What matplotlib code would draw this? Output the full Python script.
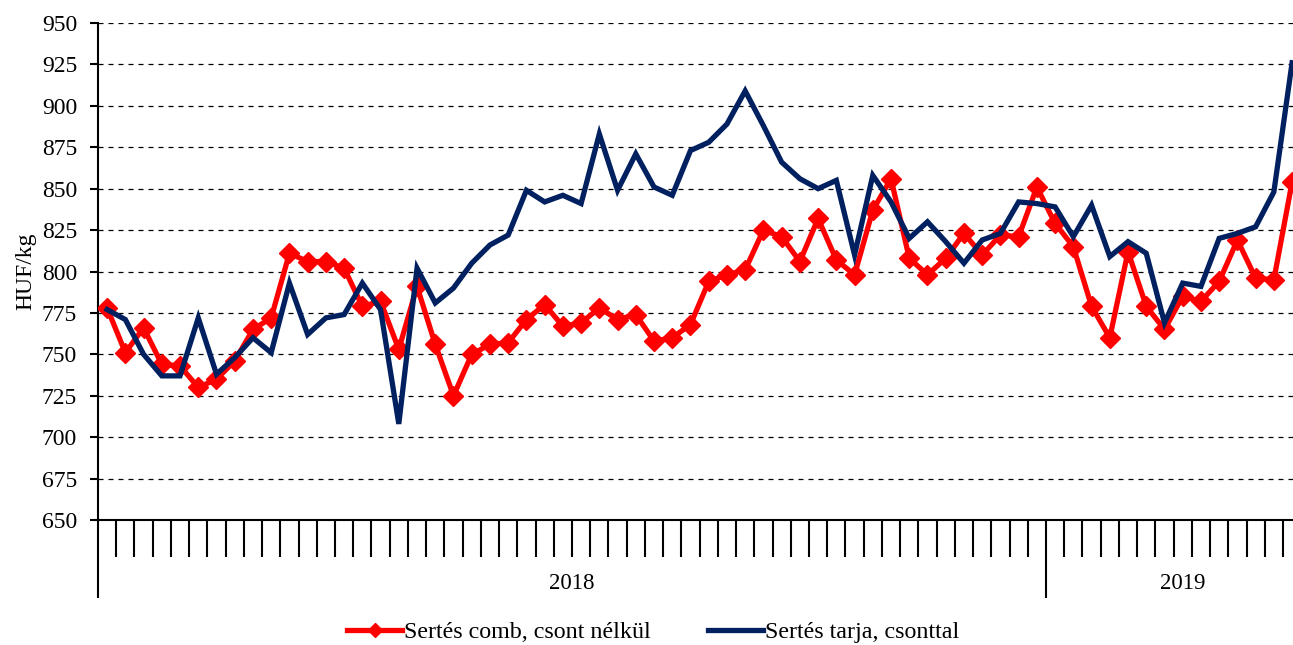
import matplotlib.pyplot as plt
import numpy as np
from matplotlib.lines import Line2D
import matplotlib.transforms as mtransforms

plt.rcParams['font.family'] = ['Liberation Serif', 'DejaVu Serif']

# heti árak, 2018. 1. héttől
comb = [778, 751, 766, 744, 743, 730, 735, 746, 765, 772, 811, 806, 806, 802, 779, 782,
        753, 791, 756, 725, 750, 756, 757, 771, 780, 767, 769, 778, 771, 774, 758, 760,
        768, 794, 798, 801, 825, 821, 806, 832, 807, 798, 837, 856, 808, 798, 808, 823,
        810, 822, 821, 851, 829, 815, 779, 760, 812, 779, 765, 785, 782, 794, 819, 796,
        795, 854]
tarja = [777, 771, 750, 737, 737, 772, 738, 748, 760, 751, 793, 762, 772, 774, 793, 777,
         708, 802, 781, 790, 805, 816, 822, 849, 842, 846, 841, 883, 849, 871, 851, 846,
         873, 878, 889, 909, 888, 866, 856, 850, 855, 810, 858, 842, 820, 830, 818, 805,
         819, 823, 842, 841, 839, 821, 840, 809, 818, 811, 769, 793, 791, 820, 823, 827,
         848, 926]
years = ['2018', '2019']
weeks_per_year = [52, 15]
labels = ['Sertés comb, csont nélkül', 'Sertés tarja, csonttal']

red = '#FF0000'
navy = '#002060'
fs = 17

fig = plt.figure(figsize=(12.93, 6.45), dpi=100)
ax = fig.add_axes([98 / 1293, 1 - 520 / 645, 1 - 98 / 1293, (520 - 23) / 645])

x = np.arange(len(comb))
ax.plot(x, comb, color=red, lw=3.8, marker='D', ms=10.5, mec=red, mfc=red,
        solid_joinstyle='miter', zorder=3)
ax.plot(x, tarja, color=navy, lw=3.8, solid_joinstyle='miter', zorder=4)

ax.set_ylim(650, 950)
ax.set_yticks(np.arange(650, 951, 25))

# x tengely: heti osztás, év határok hosszú jellel
bounds = np.cumsum([0] + weeks_per_year) - 0.5
ax.set_xticks(bounds)
ax.set_xticklabels([''] * len(bounds))
ax.set_xticks(np.arange(-0.5, sum(weeks_per_year), 1), minor=True)
ax.set_xlim(-0.5, 65.05)
ax.tick_params(axis='x', which='major', direction='out', length=56, width=1.5, color='black')
ax.tick_params(axis='x', which='minor', direction='out', length=26.5, width=1.5, color='black')
ax.tick_params(axis='y', direction='out', length=6, width=1.5, labelsize=fs, pad=9)

trans = mtransforms.blended_transform_factory(ax.transData, ax.transAxes)
for i, yr in enumerate(years):
    ax.text((bounds[i] + bounds[i + 1]) / 2, -0.127, yr, transform=trans,
            ha='center', va='center', fontsize=16.5)

for s in ['top', 'right']:
    ax.spines[s].set_visible(False)
for s in ['left', 'bottom']:
    ax.spines[s].set_linewidth(1.5)

ax.yaxis.grid(True, linestyle=(0, (4, 4)), color='black', lw=0.9)
ax.set_axisbelow(True)
ax.set_ylabel('HUF/kg', fontsize=fs, labelpad=4)

handles = [Line2D([], [], color=red, lw=3.8, marker='D', ms=7),
           Line2D([], [], color=navy, lw=3.8)]
fig.legend(handles, labels, loc='center', bbox_to_anchor=(0.505, 1 - 632 / 645), ncol=2,
           frameon=False, fontsize=17.3, handlelength=2.3, handletextpad=0.05,
           columnspacing=2.4, borderaxespad=0)

fig.savefig('out.png', dpi=100)
